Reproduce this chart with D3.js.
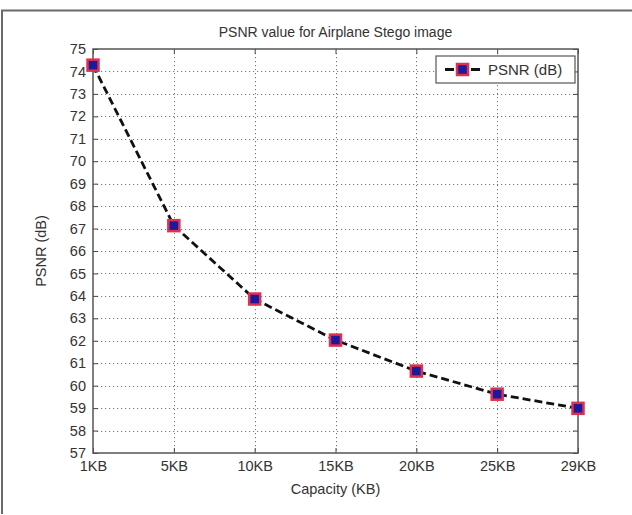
<!DOCTYPE html>
<html>
<head>
<meta charset="utf-8">
<script src="https://cdn.jsdelivr.net/npm/d3@7"></script>
<style>
  body { margin: 0; background: #fff; }
  svg text { font-family: "Liberation Sans", Arial, sans-serif; fill: #333; }
</style>
</head>
<body>
<div class="chart"></div>
<script>
// data
var capacity = ["1KB", "5KB", "10KB", "15KB", "20KB", "25KB", "29KB"];
var psnr = [74.28, 67.13, 63.86, 62.03, 60.65, 59.62, 58.99];
var yTicks = d3.range(57, 76);
var title = "PSNR value for Airplane Stego image";
var seriesName = "PSNR (dB)";

var width = 632, height = 515;
var axL = 93, axR = 578, axT = 49, axB = 453;

var svg = d3.select(".chart").append("svg")
    .attr("width", width)
    .attr("height", height);

// outer frame (only top and left edges visible)
svg.append("path")
    .attr("d", "M2,514V10.5H632")
    .attr("fill", "none")
    .attr("stroke", "#6a6a6a")
    .attr("stroke-width", 2);

var x = d3.scalePoint().domain(capacity).range([axL, axR]);
var y = d3.scaleLinear().domain([57, 75]).range([axB, axT]);

// dotted grid
var grid = svg.append("g").attr("class", "grid")
    .attr("stroke", "#777")
    .attr("stroke-width", 1)
    .attr("stroke-dasharray", "1.2,2.8");
grid.selectAll("line.h").data(yTicks.slice(1, -1)).enter().append("line")
    .attr("x1", axL).attr("x2", axR)
    .attr("y1", function(d) { return Math.round(y(d)) + 0.5; })
    .attr("y2", function(d) { return Math.round(y(d)) + 0.5; });
grid.selectAll("line.v").data(capacity.slice(1, -1)).enter().append("line")
    .attr("y1", axT).attr("y2", axB)
    .attr("x1", function(d) { return Math.round(x(d)) + 0.5; })
    .attr("x2", function(d) { return Math.round(x(d)) + 0.5; });

// axes with inward ticks on all four sides
function styleAxis(g) {
    g.select(".domain").remove();
    g.selectAll(".tick line").attr("stroke", "#444");
    g.selectAll("text").attr("fill", "#333").style("font-size", "14.5px");
}
svg.append("g")
    .attr("transform", "translate(0," + axB + ")")
    .call(d3.axisBottom(x).tickSizeInner(-5).tickSizeOuter(0).tickPadding(8))
    .call(styleAxis);
svg.append("g")
    .attr("transform", "translate(0," + axT + ")")
    .call(d3.axisTop(x).tickSizeInner(-5).tickSizeOuter(0).tickFormat(""))
    .call(styleAxis);
svg.append("g")
    .attr("transform", "translate(" + axL + ",0)")
    .call(d3.axisLeft(y).tickValues(yTicks).tickSizeInner(-5).tickSizeOuter(0).tickPadding(7))
    .call(styleAxis);
svg.append("g")
    .attr("transform", "translate(" + axR + ",0)")
    .call(d3.axisRight(y).tickValues(yTicks).tickSizeInner(-5).tickSizeOuter(0).tickFormat(""))
    .call(styleAxis);

// axes box
svg.append("rect")
    .attr("x", axL).attr("y", axT)
    .attr("width", axR - axL).attr("height", axB - axT)
    .attr("fill", "none")
    .attr("stroke", "#555")
    .attr("stroke-width", 1.5);

// series line
var line = d3.line()
    .x(function(d, i) { return x(capacity[i]); })
    .y(function(d) { return y(d); });
svg.append("path")
    .attr("d", line(psnr))
    .attr("fill", "none")
    .attr("stroke", "#111")
    .attr("stroke-width", 2.8)
    .attr("stroke-dasharray", "8,4");

// markers
svg.selectAll("rect.marker").data(psnr).enter().append("rect")
    .attr("class", "marker")
    .attr("x", function(d, i) { return x(capacity[i]) - 5.5; })
    .attr("y", function(d) { return y(d) - 5.5; })
    .attr("width", 11).attr("height", 11)
    .attr("fill", "#1a1a9a")
    .attr("stroke", "#e0304f")
    .attr("stroke-width", 2.5);

// legend
var lg = svg.append("g").attr("transform", "translate(436,56)");
lg.append("rect")
    .attr("width", 139).attr("height", 27)
    .attr("fill", "#fff")
    .attr("stroke", "#555")
    .attr("stroke-width", 1.2);
lg.append("line")
    .attr("x1", 9).attr("x2", 48).attr("y1", 13.5).attr("y2", 13.5)
    .attr("stroke", "#111").attr("stroke-width", 2.8)
    .attr("stroke-dasharray", "9,4");
lg.append("rect")
    .attr("x", 21).attr("y", 8).attr("width", 11).attr("height", 11)
    .attr("fill", "#1a1a9a").attr("stroke", "#e0304f").attr("stroke-width", 2.5);
lg.append("text")
    .attr("x", 52).attr("y", 19)
    .style("font-size", "15px")
    .text(seriesName);

// labels
svg.append("text")
    .attr("x", (axL + axR) / 2).attr("y", 37)
    .attr("text-anchor", "middle")
    .style("font-size", "14px")
    .text(title);
svg.append("text")
    .attr("x", (axL + axR) / 2).attr("y", 494)
    .attr("text-anchor", "middle")
    .style("font-size", "14.5px")
    .text("Capacity (KB)");
svg.append("text")
    .attr("transform", "translate(46," + (axT + axB) / 2 + ") rotate(-90)")
    .attr("text-anchor", "middle")
    .style("font-size", "14.5px")
    .text("PSNR (dB)");
</script>
</body>
</html>
